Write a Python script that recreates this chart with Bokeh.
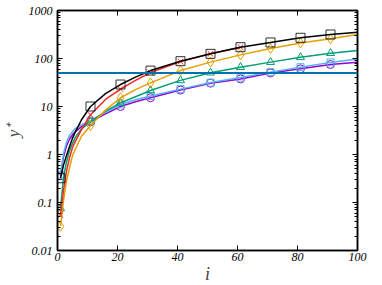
from bokeh.plotting import figure
from bokeh.models import FixedTicker, Span, LinearAxis, LogAxis, CustomJSTickFormatter
from bokeh.embed import file_html
from bokeh.resources import INLINE

# curve sample positions (grid index) and marker positions
i_line = [1, 2, 3, 4, 5, 6, 8, 11, 16, 21, 26, 31, 41, 51, 61, 71, 81, 91, 100]
i_marker = [1, 11, 21, 31, 41, 51, 61, 71, 81, 91]

black_y = [0.32, 0.6, 0.95, 1.45, 2.2, 3.0, 5.3, 10, 18.5, 28.7, 41, 56, 88, 125, 172, 216, 270, 316, 354]
red_i = [1, 2, 3, 4, 5, 6, 8, 11, 16, 21, 26, 31, 41, 51, 61]
red_y = [0.055, 0.18, 0.45, 0.85, 1.4, 1.9, 3.3, 6.7, 14, 23, 35, 51, 86, 125, 172]
orange_y = [0.032, 0.11, 0.28, 0.52, 0.95, 1.3, 2.4, 4.0, 8.4, 15.2, 22.5, 31, 56, 84, 119, 162, 210, 257, 316]
teal_y = [0.075, 0.33, 0.7, 1.2, 1.7, 2.3, 3.4, 4.8, 8.0, 11.9, 16, 21.5, 35, 50.6, 66, 84, 106, 129, 147]
sky_y = [0.38, 1.05, 1.8, 2.5, 3.0, 3.5, 4.2, 5.0, 7.6, 11, 13.8, 16.5, 23, 31.5, 40, 52, 66, 83, 98]
purple_y = [0.36, 0.9, 1.5, 2.1, 2.6, 3.0, 3.8, 4.8, 7.0, 10, 12.6, 15.2, 22, 30.6, 37.6, 50, 61, 75, 84]
hline_y = 50

x_ticks = [0, 20, 40, 60, 80, 100]
y_ticks = [0.01, 0.1, 1, 10, 100, 1000]
y_tick_labels = ["0.01", "0.1", "1", "10", "100", "1000"]

FONT = "Liberation Serif"

p = figure(x_range=(0, 100), y_range=(0.01, 1000),
           y_axis_type="log", output_backend="svg", toolbar_location=None,
           frame_width=300, frame_height=240,
           min_border_left=50, min_border_right=16, min_border_top=10, min_border_bottom=20)
p.background_fill_color = "white"
p.border_fill_color = "white"
p.outline_line_color = "black"
p.outline_line_width = 1.5
p.xgrid.visible = False
p.ygrid.visible = False

y_minor = [k * 10.0 ** e for e in range(-2, 3) for k in range(2, 10)]

def style_axis(ax, labels=True):
    ax.axis_line_color = "black"
    ax.axis_line_width = 1.5
    ax.major_tick_in = 5
    ax.major_tick_out = 0
    ax.minor_tick_in = 3
    ax.minor_tick_out = 0
    ax.major_tick_line_color = "black"
    ax.minor_tick_line_color = "black"
    ax.major_label_text_font = FONT
    ax.major_label_text_font_style = "italic"
    ax.major_label_text_color = "black"
    ax.major_label_text_font_size = "12px"
    ax.major_label_standoff = 5 if labels else 0
    if not labels:
        ax.formatter = CustomJSTickFormatter(code="return '';")

xb = p.xaxis[0]
style_axis(xb)
xb.ticker = FixedTicker(ticks=x_ticks)
xb.minor_tick_line_color = None
xb.major_label_standoff = 2
xb.axis_label = "i"
xb.axis_label_text_font = FONT
xb.axis_label_text_font_style = "italic"
xb.axis_label_text_font_size = "18px"
xb.axis_label_standoff = 0

yl = p.yaxis[0]
style_axis(yl)
yl.ticker = FixedTicker(ticks=y_ticks, minor_ticks=y_minor)
yl.major_label_overrides = {t: s for t, s in zip(y_ticks, y_tick_labels)}
yl.axis_label = "y\u207a"
yl.axis_label_text_font = FONT
yl.axis_label_text_font_style = "italic"
yl.axis_label_text_font_size = "17px"
yl.axis_label_standoff = 3

xt = LinearAxis(ticker=FixedTicker(ticks=x_ticks))
style_axis(xt, labels=False)
xt.minor_tick_line_color = None
p.add_layout(xt, "above")

yr = LogAxis(ticker=FixedTicker(ticks=y_ticks, minor_ticks=y_minor))
style_axis(yr, labels=False)
p.add_layout(yr, "right")

p.add_layout(Span(location=hline_y, dimension="width", line_color="#0072B2", line_width=2))

def marker_pts(xs, ys):
    mx = [x for x in xs if x in i_marker]
    my = [y for x, y in zip(xs, ys) if x in i_marker]
    return mx, my

series = [
    (i_line, purple_y, "#9400D3", "circle", 8),
    (i_line, sky_y, "#56B4E9", "square", 7),
    (i_line, teal_y, "#009E73", "triangle", 8),
    (i_line, orange_y, "#E69F00", "diamond", 10),
    (red_i, red_y, "#EE2A24", "x", 8),
    (i_line, black_y, "#000000", "square", 9),
]
for xs, ys, col, mk, sz in series:
    p.line(xs, ys, line_color=col, line_width=1.5)
    mx, my = marker_pts(xs, ys)
    p.scatter(mx, my, marker=mk, size=sz, line_color=col, fill_alpha=0, line_width=1,
              line_alpha=0.8 if col == "#000000" else 1.0)

open("out.html", "w").write(file_html(p, INLINE))
